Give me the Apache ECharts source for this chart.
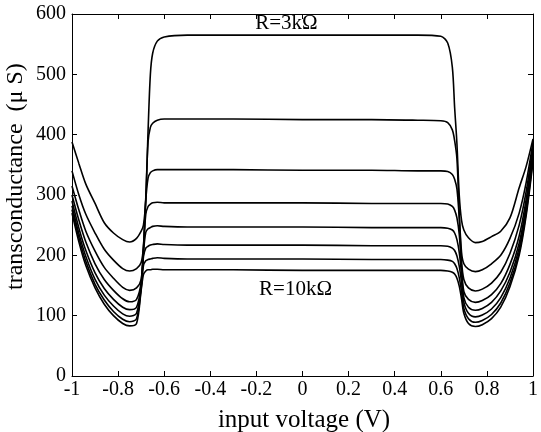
<!DOCTYPE html>
<html>
<head>
<meta charset="utf-8">
<script src="https://cdn.jsdelivr.net/npm/echarts@6/dist/echarts.min.js"></script>
<style>
  html, body { margin: 0; padding: 0; background: #fff; }
  #chart { width: 541px; height: 432px; }
</style>
</head>
<body>
<div id="chart"></div>
<script>
// input voltage (V)
var voltage = [-1, -0.97, -0.94, -0.9, -0.86, -0.82, -0.78, -0.75, -0.72, -0.70, -0.69, -0.68, -0.67, -0.66, -0.65, -0.63, -0.6,
    -0.5, -0.3, 0, 0.3, 0.5,
    0.6, 0.63, 0.65, 0.66, 0.67, 0.68, 0.69, 0.70, 0.72, 0.75, 0.78, 0.82, 0.86, 0.9, 0.94, 0.97, 1]

// transconductance (uS), one curve per resistor
var r3k = [388, 352, 318, 286, 254, 237, 226, 222, 228, 240, 250, 292, 406, 500, 535, 555, 562,
    565, 565, 565, 565, 565,
    563, 552, 512, 445, 385, 300, 258, 242, 229, 221, 223, 231, 240, 262, 312, 347, 393]
var r4k = [340, 300, 268, 237, 210, 192, 178, 174, 178, 188, 215, 295, 388, 412, 419, 424, 426,
    426, 426, 425, 425, 424,
    423, 420, 408, 390, 360, 270, 205, 186, 177, 173, 176, 186, 200, 228, 270, 320, 388]
var r5k = [315, 275, 240, 207, 180, 162, 147, 142, 146, 160, 212, 290, 328, 337, 340, 342, 342,
    342, 342, 341, 341, 340,
    340, 339, 334, 326, 310, 262, 190, 160, 146, 141, 144, 154, 172, 203, 250, 305, 382]
var r6k = [300, 258, 222, 186, 160, 142, 128, 123, 127, 155, 210, 268, 281, 285, 287, 288, 287,
    287, 287, 287, 286, 286,
    286, 285, 281, 275, 262, 235, 180, 140, 127, 122, 125, 135, 153, 185, 232, 292, 375]
var r7k = [290, 245, 208, 171, 145, 127, 114, 110, 114, 150, 205, 238, 244, 246, 248, 249, 248,
    247, 247, 247, 246, 246,
    246, 245, 242, 237, 226, 205, 170, 130, 114, 109, 112, 122, 141, 172, 220, 282, 370]
var r8k = [282, 236, 198, 160, 134, 116, 103, 99, 104, 148, 198, 212, 215, 217, 218, 219, 218,
    217, 217, 217, 216, 216,
    216, 215, 212, 208, 199, 182, 155, 122, 104, 98, 101, 111, 130, 162, 212, 275, 365]
var r9k = [276, 229, 190, 152, 126, 107, 94, 90, 95, 145, 183, 191, 193, 194, 195, 196, 195,
    194, 194, 194, 193, 193,
    193, 192, 190, 186, 178, 163, 140, 112, 95, 89, 92, 102, 121, 154, 205, 270, 360]
var r10k = [270, 222, 183, 146, 119, 100, 87, 83, 87, 142, 168, 174, 176, 176, 177, 177, 176,
    176, 176, 175, 175, 175,
    175, 174, 172, 169, 162, 149, 128, 104, 87, 82, 85, 95, 114, 148, 200, 265, 355]

var curves = [r3k, r4k, r5k, r6k, r7k, r8k, r9k, r10k]

var font = 'Liberation Serif'

function pairs(ys) {
    return voltage.map(function (x, i) { return [x, ys[i]] })
}

function xAx(pos, labels) {
    return {
        type: 'value', position: pos, min: -1, max: 1, interval: 0.2,
        axisLine: { show: true, onZero: false, lineStyle: { color: '#000', width: 1 } },
        axisTick: { show: true, inside: true, length: 5, lineStyle: { color: '#000' } },
        axisLabel: { show: labels, color: '#000', fontFamily: font, fontSize: 20, margin: 4 },
        splitLine: { show: false }
    }
}

function yAx(pos, labels) {
    return {
        type: 'value', position: pos, min: 0, max: 600, interval: 100,
        axisLine: { show: true, onZero: false, lineStyle: { color: '#000', width: 1 } },
        axisTick: { show: true, inside: true, length: 5, lineStyle: { color: '#000' } },
        axisLabel: { show: labels, color: '#000', fontFamily: font, fontSize: 20, margin: 6 },
        splitLine: { show: false }
    }
}

var series = curves.map(function (c, i) {
    var s = {
        type: 'line',
        data: pairs(c),
        smooth: 0.3,
        showSymbol: false,
        lineStyle: { color: '#000', width: 1.6 },
        z: 3
    }
    if (i === 0) {
        s.markPoint = {
            symbol: 'rect', symbolSize: 0,
            label: { show: true, position: 'inside', color: '#000', fontFamily: font, fontSize: 21,
                formatter: function (p) { return p.name } },
            data: [
                { name: 'R=3kΩ', coord: [-0.07, 585] },
                { name: 'R=10kΩ', coord: [-0.03, 144] }
            ]
        }
    }
    return s
})

var chart = echarts.init(document.getElementById('chart'))
chart.setOption({
    animation: false,
    grid: { left: 72, right: 1, top: 14, bottom: 56 },
    xAxis: [xAx('bottom', true), xAx('top', false)],
    yAxis: [yAx('left', true), yAx('right', false)],
    graphic: [
        { type: 'text', x: 304, y: 420,
          style: { text: 'input voltage (V)', fill: '#000', font: '25px "Liberation Serif"',
                   textAlign: 'center', textVerticalAlign: 'middle' } },
        { type: 'text', x: 4, y: 290, rotation: Math.PI / 2,
          style: { text: 'transconductance  (μ S)', fill: '#000', font: '24px "Liberation Serif"' } }
    ],
    series: series
})
</script>
</body>
</html>
